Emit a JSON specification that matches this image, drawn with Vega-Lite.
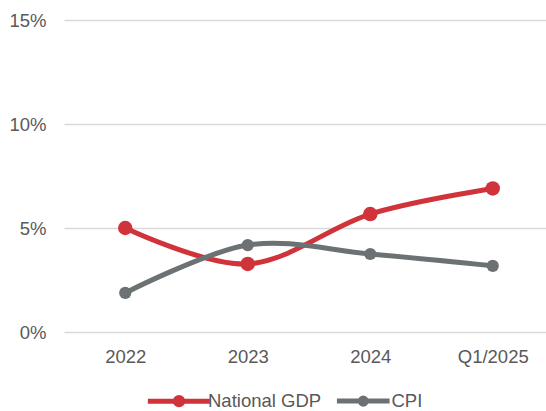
{
  "$schema": "https://vega.github.io/schema/vega-lite/v6.json",
  "width": 490,
  "height": 312,
  "autosize": {"type": "none"},
  "padding": {"left": 64, "top": 20, "right": 0, "bottom": 79},
  "background": "white",
  "config": {
    "view": {"stroke": null},
    "font": "Liberation Sans"
  },
  "data": {
    "values": [
      {"period": "2022", "series": "National GDP", "value": 5.0},
      {"period": "2023", "series": "National GDP", "value": 3.27},
      {"period": "2024", "series": "National GDP", "value": 5.67},
      {"period": "Q1/2025", "series": "National GDP", "value": 6.9},
      {"period": "2022", "series": "CPI", "value": 1.88},
      {"period": "2023", "series": "CPI", "value": 4.18},
      {"period": "2024", "series": "CPI", "value": 3.75},
      {"period": "Q1/2025", "series": "CPI", "value": 3.18}
    ]
  },
  "encoding": {
    "x": {
      "field": "period", "type": "ordinal", "sort": null,
      "scale": {"type": "point", "padding": 0.5},
      "axis": {"title": null, "labelAngle": 0, "ticks": false, "domain": false, "grid": false,
               "labelFontSize": 18.5, "labelColor": "#595959", "labelPadding": 15}
    },
    "y": {
      "field": "value", "type": "quantitative",
      "scale": {"domain": [0, 15]},
      "axis": {"title": null, "values": [0, 5, 10, 15], "labelExpr": "datum.value + '%'",
               "ticks": false, "domain": false, "gridColor": "#d9d9d9", "gridWidth": 1.5,
               "labelFontSize": 18.5, "labelColor": "#595959", "labelPadding": 18}
    },
    "color": {
      "field": "series", "type": "nominal",
      "scale": {"domain": ["National GDP", "CPI"], "range": ["#d0333a", "#6c7174"]},
      "legend": {
        "title": null, "orient": "none", "direction": "horizontal",
        "legendX": 105, "legendY": 371,
        "symbolType": "M-4.3,0L4.3,0M-0.5,0A0.5,0.5 0 1 1 0.5,0A0.5,0.5 0 1 1 -0.5,0",
        "symbolSize": 400, "symbolStrokeWidth": 5,
        "labelFontSize": 18.5, "labelColor": "#595959", "labelOffset": 19,
        "columnPadding": 4
      }
    },
    "order": {"field": "series", "sort": "descending"}
  },
  "layer": [
    {"mark": {"type": "line", "interpolate": "cardinal", "strokeWidth": 5}, "encoding": {"detail": {"field": "series"}}},
    {"mark": {"type": "point", "filled": true, "opacity": 1},
     "encoding": {"size": {"field": "series", "type": "nominal", "scale": {"domain": ["National GDP", "CPI"], "range": [210, 150]}, "legend": null}}}
  ]
}
